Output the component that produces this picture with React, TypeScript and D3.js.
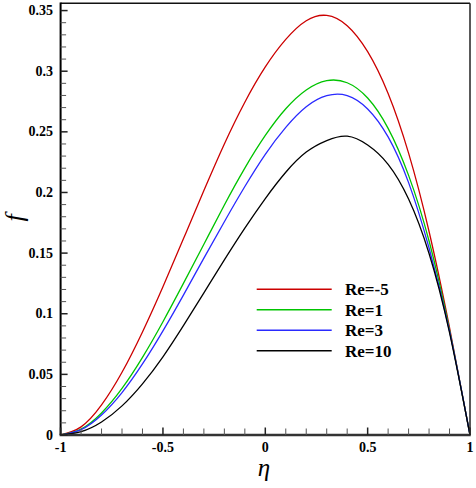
import React from "react";
import * as d3 from "d3";

const eta = [-1, -0.9, -0.8, -0.7, -0.6, -0.5, -0.4, -0.3, -0.2, -0.1, 0, 0.1, 0.2, 0.3, 0.4, 0.5, 0.6, 0.7, 0.8, 0.9, 1];
const fReMinus5 = [0, 0.0067, 0.0248, 0.0517, 0.085, 0.1223, 0.1618, 0.2016, 0.24, 0.2744, 0.3035, 0.3262, 0.3416, 0.346, 0.3375, 0.3161, 0.2816, 0.2324, 0.1678, 0.0885, 0];
const fRe1 = [0, 0.0049, 0.0182, 0.0384, 0.064, 0.0934, 0.125, 0.1573, 0.1897, 0.2201, 0.247, 0.269, 0.2845, 0.2922, 0.2905, 0.2779, 0.2529, 0.2141, 0.16, 0.0865, 0];
const fRe3 = [0, 0.0044, 0.0165, 0.035, 0.0586, 0.0859, 0.1154, 0.1459, 0.1759, 0.2049, 0.2315, 0.2537, 0.2707, 0.2798, 0.2799, 0.2689, 0.2458, 0.2081, 0.1542, 0.0856, 0];
const fRe10 = [0, 0.0027, 0.0107, 0.024, 0.0422, 0.0645, 0.0902, 0.1172, 0.1444, 0.1706, 0.195, 0.2167, 0.2333, 0.2428, 0.2464, 0.2391, 0.2232, 0.1946, 0.1497, 0.0845, 0];

const seriesLabels = ["Re=-5", "Re=1", "Re=3", "Re=10"];
const seriesValues = [fReMinus5, fRe1, fRe3, fRe10];
const seriesColors = ["#cc0000", "#00c400", "#2a2aff", "#000000"];

const xTickValues = [-1, -0.5, 0, 0.5, 1];
const xTickLabels = ["-1", "-0.5", "0", "0.5", "1"];
const yTickValues = [0, 0.05, 0.1, 0.15, 0.2, 0.25, 0.3, 0.35];
const yTickLabels = ["0", "0.05", "0.1", "0.15", "0.2", "0.25", "0.3", "0.35"];

const W = 476;
const H = 488;
const left = 60.6;
const right = 470;
const top = 3.3;
const bottom = 435;

export default function App() {
  const x = d3.scaleLinear().domain([-1, 1]).range([left, right]);
  const y = d3.scaleLinear().domain([0, 0.356]).range([bottom, top]);

  const line = d3
    .line<number>()
    .x((_, i) => x(eta[i]))
    .y((d) => y(d))
    .curve(d3.curveNatural);

  const xMinor = d3.range(-1, 1.0001, 0.1).filter((v) => Math.abs(v * 2 - Math.round(v * 2)) > 1e-6);
  const yMinor = d3.range(0, 0.3501, 0.01).filter((v) => Math.abs(v * 20 - Math.round(v * 20)) > 1e-6);

  const tickFont = "'Liberation Serif', 'Times New Roman', serif";

  return (
    <svg
      width={W}
      height={H}
      style={{ position: "absolute", left: 0, top: 0, background: "#fff" }}
      xmlns="http://www.w3.org/2000/svg"
    >
      <rect x={0} y={0} width={W} height={H} fill="#fff" />
      <defs>
        <clipPath id="plotClip">
          <rect x={left} y={top} width={right - left} height={bottom - top} />
        </clipPath>
      </defs>
      <g fill="none" strokeWidth={1.3} clipPath="url(#plotClip)">
        {seriesValues.map((vals, i) => (
          <path key={i} d={line(vals) || ""} stroke={seriesColors[i]} />
        ))}
      </g>

      <line x1={left} x2={right} y1={top} y2={top} stroke="#111" strokeWidth={1.5} />
      <line x1={right} x2={right} y1={top} y2={bottom} stroke="#222" strokeWidth={1.5} />
      <line x1={left} x2={left} y1={top - 0.75} y2={bottom} stroke="#000" strokeWidth={2} />
      <line x1={left - 1} x2={right + 0.75} y1={bottom} y2={bottom} stroke="#333" strokeWidth={2.5} />

      <g stroke="#222" strokeWidth={1}>
        {xTickValues.map((v, i) => (
          <line key={"xm" + i} x1={x(v)} x2={x(v)} y1={bottom} y2={bottom - 7.5} strokeWidth={1.5} />
        ))}
        {xMinor.map((v, i) => (
          <line key={"xn" + i} x1={x(v)} x2={x(v)} y1={bottom} y2={bottom - 6.5} stroke="#555" />
        ))}
        {yTickValues.map((v, i) => (
          <line key={"ym" + i} x1={left} x2={left + 7} y1={y(v)} y2={y(v)} strokeWidth={1.5} />
        ))}
        {yMinor.map((v, i) => (
          <line key={"yn" + i} x1={left} x2={left + 5.5} y1={y(v)} y2={y(v)} stroke="#555" />
        ))}
      </g>

      <g fontFamily={tickFont} fontWeight="bold" fontSize={14} fill="#000">
        {xTickValues.map((v, i) => (
          <text key={"xl" + i} x={x(v)} y={451.5} textAnchor="middle">
            {xTickLabels[i]}
          </text>
        ))}
        {yTickValues.map((v, i) => (
          <text key={"yl" + i} x={53} y={y(v) + 4.6} textAnchor="end">
            {yTickLabels[i]}
          </text>
        ))}
      </g>

      <text x={264} y={476} textAnchor="middle" fontFamily={tickFont} fontStyle="italic" fontSize={25} fill="#000">
        η
      </text>
      <text
        transform="translate(23,218) rotate(-90)"
        textAnchor="middle"
        fontFamily={tickFont}
        fontStyle="italic"
        fontSize={26}
        fill="#000"
      >
        f
      </text>

      <g>
        {seriesLabels.map((lab, i) => {
          const ly = 289.3 + i * 20.5;
          return (
            <g key={lab}>
              <line x1={256.7} x2={331.7} y1={ly} y2={ly} stroke={seriesColors[i]} strokeWidth={1.5} />
              <text x={345} y={ly + 6} fontFamily={tickFont} fontWeight="bold" fontSize={17} fill="#000">
                {lab}
              </text>
            </g>
          );
        })}
      </g>
    </svg>
  );
}
